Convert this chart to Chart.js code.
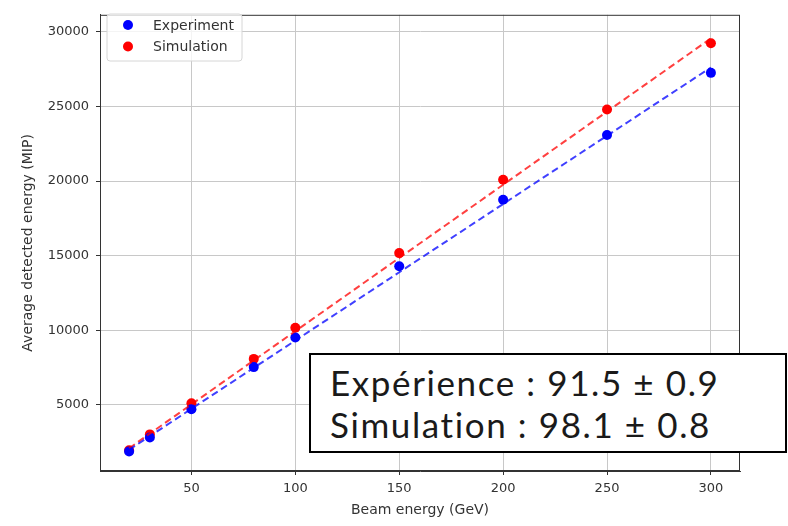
<!DOCTYPE html>
<html>
<head>
<meta charset="utf-8">
<script src="https://cdn.jsdelivr.net/npm/chart.js@4.4.0/dist/chart.umd.min.js"></script>
<style>
    body { margin: 0; background: #fff; }
    #wrap { position: relative; width: 788px; height: 526px; }
    #fitBox {
        position: absolute; left: 309px; top: 353px; width: 478px; height: 100px;
        box-sizing: border-box; border: 2.5px solid #000; background: #fff;
        font-family: 'Lato', sans-serif; font-size: 35px; line-height: 42px;
        letter-spacing: 1.6px; font-variant-ligatures: none;
        color: #1a1a1a; padding: 6px 0 0 19px; white-space: nowrap;
    }
</style>
</head>
<body>
<div id="wrap">
    <canvas id="chart" width="788" height="526"></canvas>
    <div id="fitBox">Expérience : 91.5 ± 0.9<br>Simulation : 98.1 ± 0.8</div>
</div>
<script>
// 데이터
const beamEnergy = [20, 30, 50, 80, 100, 150, 200, 250, 300];
const experiment = [1880, 2810, 4700, 7530, 9510, 14290, 18750, 23080, 27250];
const simulation = [1950, 3020, 5110, 8080, 10170, 15170, 20090, 24790, 29230];
const fitRange = [20, 300];
const experimentFit = [1990, 27610];
const simulationFit = [2090, 29560];
const xTicks = [50, 100, 150, 200, 250, 300];
const yTicks = [5000, 10000, 15000, 20000, 25000, 30000];

const toPoints = (xs, ys) => xs.map((x, i) => ({ x: x, y: ys[i] }));
const FONT = "'DejaVu Sans', sans-serif";

// 차트 영역 테두리 + 범례 (차트 내부)
const framePlugin = {
    id: 'frame',
    afterDraw(chart) {
        const ctx = chart.ctx;
        const a = chart.chartArea;
        ctx.save();
        ctx.strokeStyle = '#333';
        ctx.lineWidth = 1;
        ctx.strokeRect(a.left + 0.5, a.top + 0.5, a.right - a.left - 1, a.bottom - a.top - 1);

        // 범례 박스
        const bx = 107, by = 14, bw = 135, bh = 47, r = 3;
        ctx.beginPath();
        ctx.moveTo(bx + r, by);
        ctx.arcTo(bx + bw, by, bx + bw, by + bh, r);
        ctx.arcTo(bx + bw, by + bh, bx, by + bh, r);
        ctx.arcTo(bx, by + bh, bx, by, r);
        ctx.arcTo(bx, by, bx + bw, by, r);
        ctx.closePath();
        ctx.fillStyle = 'rgba(255,255,255,0.8)';
        ctx.fill();
        ctx.strokeStyle = '#d6d6d6';
        ctx.stroke();

        const items = chart.data.datasets.filter(d => d.inLegend);
        items.forEach((d, i) => {
            const y = 25 + i * 21.5;
            ctx.beginPath();
            ctx.arc(128, y, 5, 0, Math.PI * 2);
            ctx.fillStyle = d.backgroundColor;
            ctx.fill();
            ctx.fillStyle = '#333';
            ctx.font = '14px ' + FONT;
            ctx.textBaseline = 'middle';
            ctx.textAlign = 'left';
            ctx.fillText(d.label, 153, y + 1);
        });
        ctx.restore();
    }
};

new Chart(document.getElementById('chart'), {
    type: 'scatter',
    data: {
        datasets: [
            {
                label: 'Experiment', inLegend: true, order: 1,
                data: toPoints(beamEnergy, experiment),
                backgroundColor: '#0000ff', borderColor: '#0000ff',
                pointRadius: 5, pointBorderWidth: 0
            },
            {
                label: 'Simulation', inLegend: true, order: 1,
                data: toPoints(beamEnergy, simulation),
                backgroundColor: '#ff0000', borderColor: '#ff0000',
                pointRadius: 5, pointBorderWidth: 0
            },
            {
                label: 'Experiment fit', order: 0, showLine: true,
                data: toPoints(fitRange, experimentFit),
                borderColor: 'rgba(0,0,255,0.75)', borderWidth: 2,
                borderDash: [7, 4], pointRadius: 0
            },
            {
                label: 'Simulation fit', order: 0, showLine: true,
                data: toPoints(fitRange, simulationFit),
                borderColor: 'rgba(255,0,0,0.75)', borderWidth: 2,
                borderDash: [7, 4], pointRadius: 0
            }
        ]
    },
    options: {
        responsive: false,
        animation: false,
        layout: { padding: { top: 6, right: 48, left: 0, bottom: 0 } },
        plugins: { legend: { display: false }, tooltip: { enabled: false } },
        scales: {
            x: {
                type: 'linear', min: 6, max: 314,
                afterFit: s => { s.height = 55; },
                afterBuildTicks: s => { s.ticks = xTicks.map(v => ({ value: v })); },
                grid: { color: '#c8c8c8', tickColor: '#333', tickLength: 4 },
                border: { color: '#333' },
                ticks: { color: '#333', font: { family: FONT, size: 13 }, padding: 6, maxRotation: 0,
                         callback: v => String(v) },
                title: { display: true, text: 'Beam energy (GeV)', color: '#333',
                         font: { family: FONT, size: 14 }, padding: { top: 0, bottom: 7 } }
            },
            y: {
                type: 'linear', min: 567, max: 31140,
                afterFit: s => { s.width = 100; },
                afterBuildTicks: s => { s.ticks = yTicks.map(v => ({ value: v })); },
                grid: { color: '#c8c8c8', tickColor: '#333', tickLength: 4 },
                border: { color: '#333' },
                ticks: { color: '#333', font: { family: FONT, size: 13 }, padding: 7,
                         callback: v => String(v) },
                title: { display: true, text: 'Average detected energy (MIP)', color: '#333',
                         font: { family: FONT, size: 14 }, padding: { top: 20, bottom: 0 } }
            }
        }
    },
    plugins: [framePlugin]
});
</script>
</body>
</html>
